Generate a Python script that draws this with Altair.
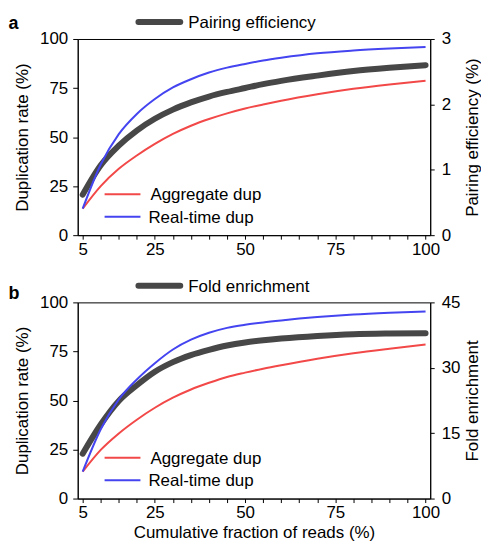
import altair as alt
import pandas as pd

# ---- data ----
x_vals = [5, 10, 15, 20, 25, 30, 35, 40, 45, 50, 55, 60, 70, 80, 90, 100]

agg_a = [13.5, 25.0, 33.8, 40.6, 46.5, 51.6, 55.8, 59.2, 62.1, 64.6, 66.6, 68.5, 71.8, 74.6, 76.8, 78.7]
rt_a = [13.5, 36.0, 51.5, 61.8, 69.4, 75.3, 79.5, 82.9, 85.4, 87.3, 89.0, 90.4, 92.7, 94.1, 95.1, 95.9]
pe_a = [0.62, 1.07, 1.37, 1.60, 1.78, 1.92, 2.03, 2.12, 2.19, 2.25, 2.31, 2.36, 2.44, 2.51, 2.56, 2.60]

agg_b = [13.7, 24.8, 33.2, 40.2, 46.3, 51.4, 55.6, 59.0, 62.0, 64.2, 66.2, 68.0, 71.3, 74.1, 76.4, 78.5]
rt_b = [13.7, 35.3, 50.5, 60.7, 69.0, 76.0, 81.0, 84.5, 87.0, 88.6, 89.8, 90.8, 92.5, 93.8, 94.7, 95.4]
fe_b = [10.3, 17.0, 22.4, 26.0, 29.1, 31.3, 32.9, 34.1, 35.1, 35.8, 36.3, 36.7, 37.3, 37.7, 37.85, 37.9]

series_names = ["Aggregate dup", "Real-time dup"]
series_colors = ["#f24848", "#4444f0"]
dark = "#474747"

x_tick_values = list(range(5, 101, 5))
x_label_values = [5, 25, 50, 75, 100]
dup_ticks = [0, 25, 50, 75, 100]

FONT = "Liberation Sans"
FS = 17


def panel(letter, letter_y, agg, rt, sec, sec_title, sec_max, sec_ticks, sec_title_pad,
          legend_label, legend_y, xtitle):
    long = pd.DataFrame({
        "x": x_vals * 2,
        "value": agg + rt,
        "series": [series_names[0]] * len(x_vals) + [series_names[1]] * len(x_vals),
    })
    sec_df = pd.DataFrame({"x": x_vals, "sec": sec})

    xenc = alt.X(
        "x:Q",
        scale=alt.Scale(domain=[3.62, 101.29], nice=False, zero=False),
        axis=alt.Axis(
            values=x_tick_values,
            labelExpr="indexof(" + str(x_label_values) + ", datum.value) >= 0 ? datum.label : ''",
            labelOverlap=False,
            title=xtitle if xtitle else None,
            tickSize=4,
            labelPadding=2,
            titlePadding=4,
        ),
    )

    sec_line = alt.Chart(sec_df).mark_line(
        strokeWidth=6, color=dark, strokeCap="round", interpolate="monotone"
    ).encode(
        x=xenc,
        y=alt.Y(
            "sec:Q",
            scale=alt.Scale(domain=[0, sec_max], nice=False),
            axis=alt.Axis(orient="right", values=sec_ticks, title=sec_title,
                          titleAngle=270, titleBaseline="top",
                          titlePadding=sec_title_pad, tickSize=4, labelPadding=7),
        ),
    )

    dup_lines = alt.Chart(long).mark_line(strokeWidth=2, interpolate="monotone").encode(
        x=xenc,
        y=alt.Y(
            "value:Q",
            scale=alt.Scale(domain=[0, 100], nice=False),
            axis=alt.Axis(orient="left", values=dup_ticks, title="Duplication rate (%)",
                          tickSize=5, labelPadding=5, titlePadding=8),
        ),
        color=alt.Color("series:N", scale=alt.Scale(domain=series_names, range=series_colors),
                        legend=None),
        detail="series:N",
    )

    one = pd.DataFrame({"k": [0]})
    leg_top_line = alt.Chart(one).mark_rule(color=dark, strokeWidth=6, strokeCap="round").encode(
        x=alt.value(61), x2=alt.value(103), y=alt.value(legend_y)
    )
    leg_top_text = alt.Chart(one).mark_text(
        text=legend_label, align="left", baseline="middle", font=FONT, fontSize=FS, color="black"
    ).encode(x=alt.value(111), y=alt.value(legend_y + 1))
    letter_text = alt.Chart(one).mark_text(
        text=letter, align="left", baseline="alphabetic", font=FONT, fontSize=18,
        fontWeight="bold", color="black"
    ).encode(x=alt.value(-69.5), y=alt.value(letter_y))

    leg_red = alt.Chart(one).mark_rule(color=series_colors[0], strokeWidth=2).encode(
        x=alt.value(27), x2=alt.value(63), y=alt.value(156)
    )
    leg_blue = alt.Chart(one).mark_rule(color=series_colors[1], strokeWidth=2).encode(
        x=alt.value(27), x2=alt.value(63), y=alt.value(178.5)
    )
    leg_red_t = alt.Chart(one).mark_text(
        text=series_names[0], align="left", baseline="middle", font=FONT, fontSize=FS, color="black"
    ).encode(x=alt.value(73), y=alt.value(157))
    leg_blue_t = alt.Chart(one).mark_text(
        text=series_names[1], align="left", baseline="middle", font=FONT, fontSize=FS, color="black"
    ).encode(x=alt.value(71), y=alt.value(179.5))

    layered = alt.layer(
        sec_line, dup_lines,
        leg_top_line, leg_top_text, letter_text,
        leg_red, leg_blue, leg_red_t, leg_blue_t,
    ).resolve_scale(y="independent").properties(width=354, height=197)
    return layered


pa = panel("a", -10, agg_a, rt_a, pe_a, "Pairing efficiency (%)", 3, [0, 1, 2, 3], 14,
           "Pairing efficiency", -17, None)
pb = panel("b", -3, agg_b, rt_b, fe_b, "Fold enrichment", 45, [0, 15, 30, 45], 4.5,
           "Fold enrichment", -16.6, "Cumulative fraction of reads (%)")

chart = alt.vconcat(pa, pb, spacing=18.5).properties(
    padding={"left": 0, "top": 4, "right": 0, "bottom": 0}
).configure(
    background="white"
).configure_view(
    stroke="black", strokeWidth=1
).configure_axis(
    labelFont=FONT, titleFont=FONT, labelFontSize=FS, titleFontSize=FS,
    labelColor="black", titleColor="black", domainColor="black", tickColor="black",
    grid=False, titleFontWeight="normal", domainWidth=1, tickWidth=1,
)

chart.save("out.html", embed_options={"renderer": "svg", "actions": False})
